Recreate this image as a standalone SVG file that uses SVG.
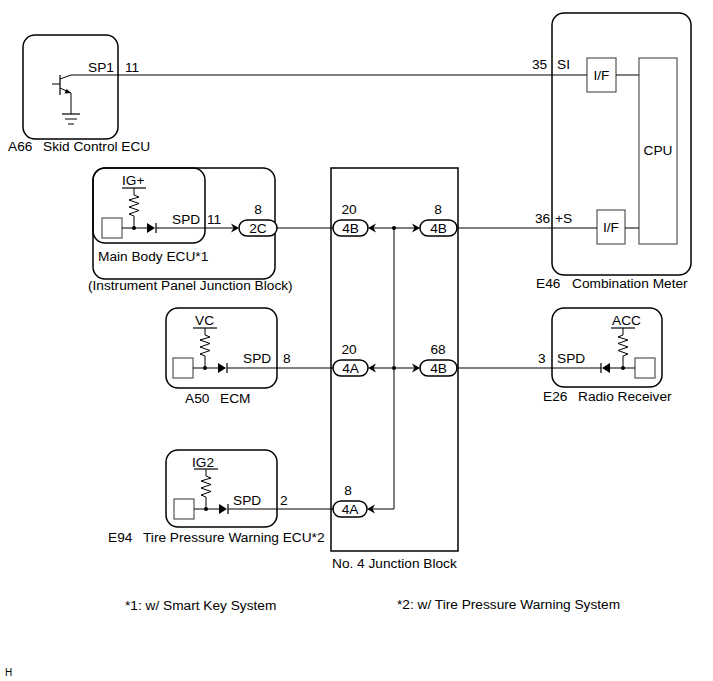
<svg xmlns="http://www.w3.org/2000/svg" xmlns:xlink="http://www.w3.org/1999/xlink" width="713" height="681" viewBox="0 0 713 681">
<style>
text{font-family:"Liberation Sans",Arial,sans-serif;font-size:13.7px;fill:#000}
.ctr{text-anchor:middle}
.box{fill:none;stroke:#000;stroke-width:1.5}
.gbox{fill:#fff;stroke:#555;stroke-width:1.2}
.pill{fill:#fff;stroke:#000;stroke-width:1.5}
.w{fill:none;stroke:#000;stroke-width:1}
.sym{fill:none;stroke:#000;stroke-width:1}
</style>
<defs>
<g id="src">
<line x1="-12" y1="-40" x2="12" y2="-40" stroke="#000" stroke-width="1.2"/>
<path d="M0,-40 V-33 L5,-31 L-5,-28 L5,-24.5 L-5,-21 L5,-17.5 L-5,-14 L0,-12 V0" class="sym"/>
<rect x="-32" y="-10" width="20" height="20" class="gbox"/>
<line x1="-12" y1="0" x2="13" y2="0" class="sym"/>
<circle cx="0" cy="0" r="2" fill="#000"/>
<path d="M13,-5 L21,0 L13,5 Z" fill="#000"/>
<line x1="22" y1="-5" x2="22" y2="5" stroke="#000" stroke-width="1.2"/>
</g>
<path id="cr" d="M0,0 L-8,-4.5 L-5.5,0 L-8,4.5 Z" fill="#000"/>
</defs>

<g id="skid-control-ecu">
<rect x="23" y="35" width="95" height="104" rx="12" class="box"/>
<line x1="60" y1="75" x2="60" y2="95" stroke="#000" stroke-width="1.2"/>
<line x1="52" y1="84" x2="60" y2="84" class="sym"/>
<line x1="60" y1="79" x2="71" y2="75" class="sym"/>
<line x1="60" y1="88" x2="71" y2="93" class="sym"/>
<path d="M71,93 L64.5,93.5 L66.5,89 Z" fill="#000"/>
<line x1="71" y1="93" x2="71" y2="114" class="sym"/>
<line x1="62" y1="114" x2="80" y2="114" stroke="#000" stroke-width="1.2"/>
<line x1="65" y1="119" x2="77" y2="119" class="sym"/>
<line x1="68" y1="124" x2="74" y2="124" class="sym"/>
<text x="88" y="72">SP1</text>
<text x="125" y="72">11</text>
<text x="8" y="151">A66</text>
<text x="43" y="151">Skid Control ECU</text>
</g>

<g id="combination-meter">
<rect x="552" y="13" width="139" height="262" rx="12" class="box"/>
<rect x="587" y="58" width="29" height="34" class="gbox"/>
<text x="601.5" y="80" class="ctr">I/F</text>
<rect x="597" y="210" width="28" height="34" class="gbox"/>
<text x="611" y="232" class="ctr">I/F</text>
<rect x="639" y="58" width="38" height="186" class="gbox"/>
<text x="658" y="155" class="ctr">CPU</text>
<line x1="616" y1="75" x2="639" y2="75" class="w"/>
<line x1="625" y1="228" x2="639" y2="228" class="w"/>
<text x="532" y="69">35</text>
<text x="557" y="69">SI</text>
<text x="535" y="223">36</text>
<text x="555" y="223">+S</text>
<text x="536" y="288">E46</text>
<text x="572" y="288">Combination Meter</text>
</g>

<g id="main-body-ecu">
<rect x="93" y="168" width="182" height="111" rx="12" class="box"/>
<rect x="93" y="168" width="112" height="75" rx="12" class="box"/>
<use xlink:href="#src" href="#src" x="134" y="228"/>
<text x="122" y="185">IG+</text>
<text x="172" y="224">SPD</text>
<text x="207" y="224">11</text>
<text x="98" y="261">Main Body ECU*1</text>
<text x="88" y="290">(Instrument Panel Junction Block)</text>
<rect x="239" y="220" width="38" height="16" rx="8" class="pill"/>
<text x="258" y="233" class="ctr">2C</text>
<text x="258" y="214" class="ctr">8</text>
<use xlink:href="#cr" href="#cr" x="239" y="228"/>
</g>

<g id="ecm">
<rect x="166" y="308" width="111" height="80" rx="12" class="box"/>
<use xlink:href="#src" href="#src" x="205" y="368"/>
<text x="195" y="325">VC</text>
<text x="243" y="363">SPD</text>
<text x="283" y="363">8</text>
<text x="185" y="403">A50</text>
<text x="220" y="403">ECM</text>
</g>

<g id="radio-receiver">
<rect x="552" y="308" width="110" height="79" rx="12" class="box"/>
<use xlink:href="#src" href="#src" transform="translate(623,368) scale(-1,1)"/>
<text x="612" y="325">ACC</text>
<text x="538" y="363">3</text>
<text x="557" y="363">SPD</text>
<text x="543" y="401">E26</text>
<text x="578" y="401">Radio Receiver</text>
</g>

<g id="tire-pressure-warning-ecu">
<rect x="166" y="450" width="111" height="77" rx="12" class="box"/>
<use xlink:href="#src" href="#src" x="206" y="509"/>
<text x="192" y="467">IG2</text>
<text x="233" y="505">SPD</text>
<text x="280" y="505">2</text>
<text x="108" y="542">E94</text>
<text x="143" y="542">Tire Pressure Warning ECU*2</text>
</g>

<g id="no4-junction-block">
<rect x="331" y="168" width="127" height="383" class="box"/>
<rect x="333" y="220" width="35" height="16" rx="8" class="pill"/>
<text x="350.5" y="233" class="ctr">4B</text>
<text x="349" y="214" class="ctr">20</text>
<rect x="420" y="220" width="37" height="16" rx="8" class="pill"/>
<text x="438.5" y="233" class="ctr">4B</text>
<text x="438" y="214" class="ctr">8</text>
<rect x="333" y="360" width="35" height="16" rx="8" class="pill"/>
<text x="350.5" y="373" class="ctr">4A</text>
<text x="349" y="354" class="ctr">20</text>
<rect x="420" y="360" width="37" height="16" rx="8" class="pill"/>
<text x="438.5" y="373" class="ctr">4B</text>
<text x="438" y="354" class="ctr">68</text>
<rect x="333" y="501" width="34" height="16" rx="8" class="pill"/>
<text x="350" y="514" class="ctr">4A</text>
<text x="348" y="495" class="ctr">8</text>
<use xlink:href="#cr" href="#cr" transform="translate(368,228) scale(-1,1)"/>
<use xlink:href="#cr" href="#cr" x="420" y="228"/>
<use xlink:href="#cr" href="#cr" transform="translate(368,368) scale(-1,1)"/>
<use xlink:href="#cr" href="#cr" x="420" y="368"/>
<use xlink:href="#cr" href="#cr" transform="translate(367,509) scale(-1,1)"/>
<circle cx="394" cy="228" r="2" fill="#000"/>
<circle cx="394" cy="368" r="2" fill="#000"/>
<text x="332" y="568">No. 4 Junction Block</text>
</g>

<g id="connectors">
<path class="w" d="M71,75 H587"/>
<path class="w" d="M156,228 H234"/>
<path class="w" d="M277,228 H333"/>
<path class="w" d="M373,228 H415"/>
<path class="w" d="M457,228 H597"/>
<path class="w" d="M227,368 H333"/>
<path class="w" d="M373,368 H415"/>
<path class="w" d="M457,368 H601"/>
<path class="w" d="M228,509 H333"/>
<path class="w" d="M372,509 H394 V228"/>
</g>

<g id="notes">
<text x="125" y="610">*1: w/ Smart Key System</text>
<text x="397" y="609">*2: w/ Tire Pressure Warning System</text>
<text x="5" y="676" style="font-size:10px">H</text>
</g>
</svg>
